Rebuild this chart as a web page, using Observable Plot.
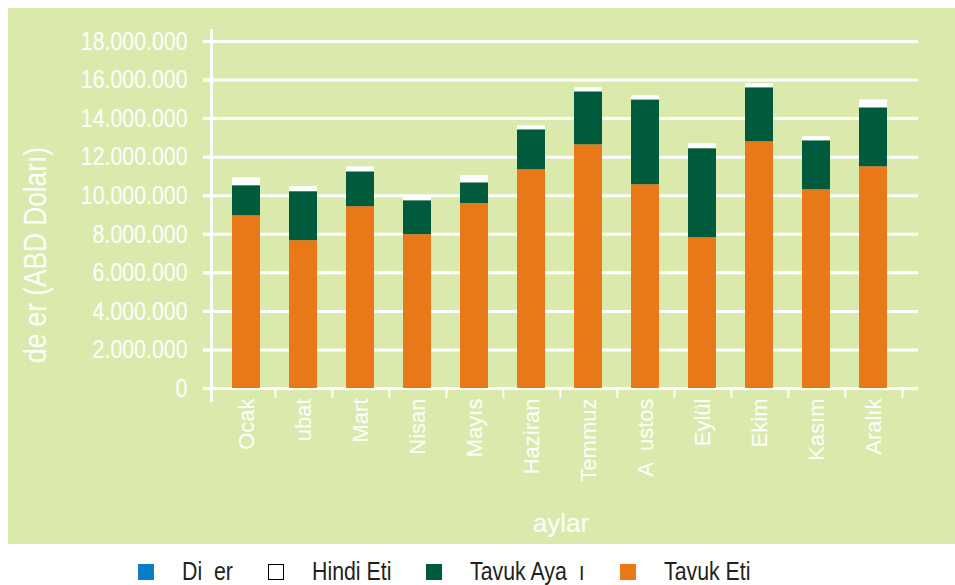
<!DOCTYPE html>
<html>
<head>
<meta charset="utf-8">
<script src="https://cdn.jsdelivr.net/npm/d3@7"></script>
<script src="https://cdn.jsdelivr.net/npm/@observablehq/plot@0.6"></script>
<style>
  html, body { margin: 0; padding: 0; background: #ffffff; }
  #panel { position: absolute; left: 8px; top: 8px; width: 947px; height: 536px; background: #daeaad; }
  #panel svg { display: block; }
  g[aria-label="y-axis tick label"] text { font-family: "Liberation Sans", sans-serif; font-size: 26px; }
  g[aria-label="x-axis tick label"] text { font-family: "Liberation Sans", sans-serif; font-size: 22px; white-space: pre; }
  g[aria-label="y-axis label"] text { font-family: "Liberation Sans", sans-serif; font-size: 32px; }
  g[aria-label="x-axis label"] text { font-family: "Liberation Sans", sans-serif; font-size: 26px; }
  #legend { position: absolute; left: 138px; top: 556px; display: flex; align-items: center;
            font-family: "Liberation Sans", sans-serif; font-size: 26px; color: #231f20; }
  .item { display: flex; align-items: center; margin-right: 35px; }
  .item span { display: inline-block; white-space: pre; transform: scaleX(0.82); transform-origin: 0 50%; }
  .sw { width: 16px; height: 16px; margin-right: 28px; box-sizing: border-box; }
</style>
</head>
<body>
<div id="panel"></div>
<div id="legend"></div>
<script>
const months = ["Ocak", "ubat", "Mart", "Nisan", "Mayıs", "Haziran", "Temmuz", "A  ustos", "Eylül", "Ekim", "Kasım", "Aralık"];
const seriesNames = ["Tavuk Eti", "Tavuk Aya  ı", "Hindi Eti", "Di  er"];
const seriesColors = ["#e87818", "#005a3c", "#ffffff", "#0a7dc4"];
const tavukEti   = [8960000, 7670000, 9430000, 7980000, 9590000, 11350000, 12640000, 10570000, 7820000, 12800000, 10310000, 11500000];
const tavukAyagi = [1560000, 2540000, 1810000, 1760000, 1080000, 2070000, 2750000, 4400000, 4620000, 2800000, 2540000, 3060000];
const hindiEti   = [410000, 260000, 260000, 210000, 370000, 210000, 210000, 210000, 250000, 200000, 210000, 410000];
const diger      = [0, 0, 0, 0, 0, 0, 0, 0, 0, 0, 0, 0];
const yTicks = [0, 2000000, 4000000, 6000000, 8000000, 10000000, 12000000, 14000000, 16000000, 18000000];
const legendOrder = ["Di  er", "Hindi Eti", "Tavuk Aya  ı", "Tavuk Eti"];
const yLabel = "de er (ABD Doları)";
const xLabel = "aylar";

const seriesValues = [tavukEti, tavukAyagi, hindiEti, diger];
const data = [];
seriesNames.forEach((s, si) => months.forEach((m, i) => data.push({month: m, series: s, value: seriesValues[si][i]})));

const fmt = d3.formatLocale({decimal: ",", thousands: ".", grouping: [3], currency: ["", ""]}).format(",");

const chart = Plot.plot({
  width: 947,
  height: 536,
  marginLeft: 203,
  marginRight: 37,
  marginTop: 33,
  marginBottom: 156,
  style: {background: "transparent", color: "#ffffff", overflow: "visible"},
  x: {domain: months, range: [205, 898], paddingInner: 0.515, paddingOuter: 0.2575},
  y: {domain: [0, 18000000]},
  color: {domain: seriesNames, range: seriesColors},
  marks: [
    Plot.gridY(yTicks, {stroke: "#ffffff", strokeOpacity: 1, strokeWidth: 3, insetLeft: -8}),
    Plot.frame({anchor: "left", stroke: "#ffffff", strokeWidth: 3, insetTop: -11, insetBottom: -12}),
    Plot.barY(data, {x: "month", y: "value", fill: "series", order: seriesNames}),
    Plot.axisY(yTicks, {tickSize: 8, tickPadding: 16, stroke: "#ffffff", strokeWidth: 3, fill: "#ffffff",
      tickFormat: fmt, label: yLabel, labelAnchor: "center", labelArrow: false, labelOffset: 188}),
    Plot.axisX(months, {tickSize: 10, dx: 28.9, stroke: "#ffffff", strokeWidth: 2, tickFormat: () => null, label: null}),
    Plot.axisX(months, {tickSize: 0, tickPadding: 10, tickRotate: -90, fill: "#ffffff",
      label: xLabel, labelAnchor: "center", labelArrow: false, labelOffset: 143})
  ]
});
document.getElementById("panel").appendChild(chart);

// condensed look: compress glyphs of the tick labels and the y label
function condense(selector, factor) {
  chart.querySelectorAll(selector).forEach(t => {
    const len = t.getComputedTextLength();
    t.setAttribute("textLength", (len * factor).toFixed(1));
    t.setAttribute("lengthAdjust", "spacingAndGlyphs");
  });
}
condense('g[aria-label="y-axis tick label"] text', 0.82);
condense('g[aria-label="y-axis label"] text', 0.82);
function shift(selector, tx, ty) {
  const g = chart.querySelector(selector);
  if (g) g.setAttribute("transform", `translate(${tx},${ty}) ` + (g.getAttribute("transform") || ""));
}
shift('g[aria-label="y-axis label"]', 0, 40);
shift('g[aria-label="x-axis label"]', -4, 0);

const legend = document.getElementById("legend");
legendOrder.forEach(name => {
  const it = document.createElement("div");
  it.className = "item";
  const sw = document.createElement("div");
  sw.className = "sw";
  sw.style.background = seriesColors[seriesNames.indexOf(name)];
  if (name === "Hindi Eti") sw.style.border = "1px solid #000";
  const tx = document.createElement("span");
  tx.textContent = name;
  it.appendChild(sw); it.appendChild(tx);
  legend.appendChild(it);
  const w = tx.getBoundingClientRect().width;
  tx.style.marginRight = (-(w / 0.82) * 0.18) + "px";
});
</script>
</body>
</html>
